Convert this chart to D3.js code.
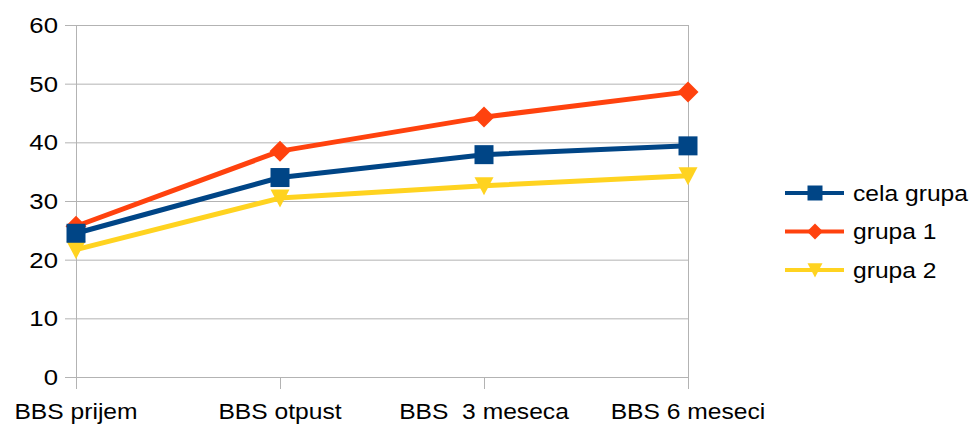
<!DOCTYPE html>
<html>
<head>
<meta charset="utf-8">
<script src="https://cdn.jsdelivr.net/npm/d3@7"></script>
<style>
  body { margin: 0; background: #fff; }
  text { font-family: "Liberation Sans", Arial, sans-serif; fill: #000; }
</style>
</head>
<body>
<div id="chart"></div>
<script>
// chart values
var categories = ["BBS prijem", "BBS otpust", "BBS  3 meseca", "BBS 6 meseci"];
var celaGrupa = [24.5, 34.0, 37.9, 39.4];
var grupa1 = [25.7, 38.5, 44.3, 48.6];
var grupa2 = [21.7, 30.5, 32.6, 34.3];
var seriesNames = ["cela grupa", "grupa 1", "grupa 2"];
var yTicks = [0, 10, 20, 30, 40, 50, 60];

var W = 975, H = 425;
var margin = {top: 25, right: 287, bottom: 48, left: 76},
    width = W - margin.left - margin.right,
    height = H - margin.top - margin.bottom;

var series = [
  {name: seriesNames[0], values: celaGrupa, color: "#004586", symbol: "square"},
  {name: seriesNames[1], values: grupa1, color: "#ff420e", symbol: "diamond"},
  {name: seriesNames[2], values: grupa2, color: "#ffd320", symbol: "tri"}
];

// the text in the picture is a bit wider than the font at its height
var stretch = 1.12;

var svg = d3.select("#chart").append("svg")
    .attr("width", W)
    .attr("height", H);

var g = svg.append("g")
    .attr("transform", "translate(" + margin.left + "," + margin.top + ")");

var x = d3.scalePoint()
    .domain(categories)
    .range([0, width])
    .padding(0);

var y = d3.scaleLinear()
    .domain([0, 60])
    .range([height, 0]);

var grid = "#b3b3b3";

// horizontal grid lines, with small ticks to the left
g.selectAll(".grid")
  .data(yTicks)
  .enter().append("line")
    .attr("x1", -11)
    .attr("x2", width)
    .attr("y1", function(d) { return y(d) + 0.5; })
    .attr("y2", function(d) { return y(d) + 0.5; })
    .attr("stroke", grid)
    .attr("stroke-width", 1);

// left axis line and right border
g.append("line")
    .attr("x1", 0.5).attr("x2", 0.5)
    .attr("y1", 0).attr("y2", height + 12)
    .attr("stroke", grid);
g.append("line")
    .attr("x1", width + 0.5).attr("x2", width + 0.5)
    .attr("y1", 0).attr("y2", height)
    .attr("stroke", grid);

// category ticks
g.selectAll(".xtick")
  .data(categories)
  .enter().append("line")
    .attr("x1", function(d) { return x(d) + 0.5; })
    .attr("x2", function(d) { return x(d) + 0.5; })
    .attr("y1", height)
    .attr("y2", height + 12)
    .attr("stroke", grid);

// y labels
g.selectAll(".ylab")
  .data(yTicks)
  .enter().append("g")
    .attr("transform", function(d) { return "translate(-18," + y(d) + ") scale(" + stretch + ",1)"; })
  .append("text")
    .attr("dy", "0.35em")
    .attr("text-anchor", "end")
    .style("font-size", "23px")
    .text(function(d) { return d; });

// x labels
g.selectAll(".xlab")
  .data(categories)
  .enter().append("g")
    .attr("transform", function(d) { return "translate(" + x(d) + "," + (height + 42) + ") scale(" + stretch + ",1)"; })
  .append("text")
    .attr("text-anchor", "middle")
    .style("font-size", "22px")
    .style("white-space", "pre")
    .attr("xml:space", "preserve")
    .text(function(d) { return d; });

function symbolPath(sym, s) {
  var h = s / 2;
  if (sym === "tri") {
    return "M" + (-h) + "," + (-s * 0.45) + "L" + h + "," + (-s * 0.45) + "L0," + (s * 0.5) + "Z";
  }
  if (sym === "diamond") {
    return "M0," + (-h) + "L" + h + ",0L0," + h + "L" + (-h) + ",0Z";
  }
  return "M" + (-h) + "," + (-h) + "H" + h + "V" + h + "H" + (-h) + "Z";
}

var line = d3.line()
    .x(function(d, i) { return x(categories[i]); })
    .y(function(d) { return y(d); });

series.slice().reverse().forEach(function(s) {
  g.append("path")
      .datum(s.values)
      .attr("fill", "none")
      .attr("stroke", s.color)
      .attr("stroke-width", 5)
      .attr("stroke-linejoin", "round")
      .attr("d", line);

  g.selectAll(null)
    .data(s.values)
    .enter().append("path")
      .attr("transform", function(d, i) { return "translate(" + x(categories[i]) + "," + y(d) + ")"; })
      .attr("d", symbolPath(s.symbol, s.symbol === "diamond" ? 21 : 19))
      .attr("fill", s.color);
});

// legend
var legend = svg.append("g")
    .attr("transform", "translate(785,193)");

var row = legend.selectAll(".row")
  .data(series)
  .enter().append("g")
    .attr("transform", function(d, i) { return "translate(0," + (i * 38.5) + ")"; });

row.append("line")
    .attr("x1", 0).attr("x2", 59)
    .attr("stroke", function(d) { return d.color; })
    .attr("stroke-width", 4);

row.append("path")
    .attr("transform", "translate(30,0)")
    .attr("d", function(d) { return symbolPath(d.symbol, d.symbol === "diamond" ? 16 : 15); })
    .attr("fill", function(d) { return d.color; });

row.append("g")
    .attr("transform", "translate(68,0) scale(" + stretch + ",1)")
  .append("text")
    .attr("dy", "0.35em")
    .style("font-size", "22px")
    .text(function(d) { return d.name; });
</script>
</body>
</html>
